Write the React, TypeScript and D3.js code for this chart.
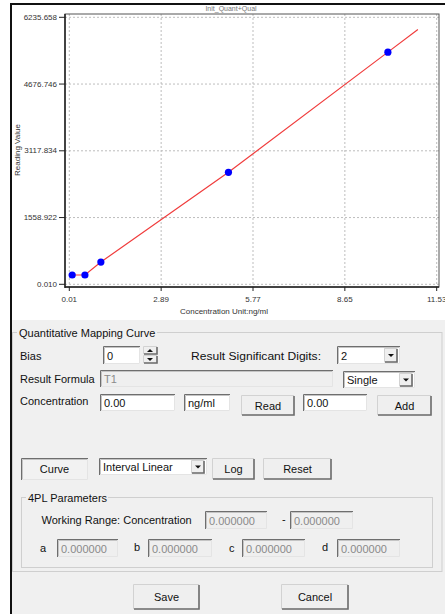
import React from "react";
import * as d3 from "d3";

// chart data
const chartTitle = "Init_Quant+Qual";
const xTicks = [0.01, 2.89, 5.77, 8.65, 11.53];
const yTicks = [0.01, 1558.922, 3117.834, 4676.746, 6235.658];
const calConc = [0.1, 0.5, 1, 5, 10];
const calReading = [217, 217, 520, 2616, 5422];
const curveConc = [0.1, 0.5, 1, 5, 10, 10.94];
const curveReading = [217, 217, 520, 2616, 5422, 5950];

const W = 445;
const H = 614;
const FONT = "'Liberation Sans', Arial, sans-serif";
const BG = "#f0f0f0";

// plot frame
const frame = { left: 65, right: 439, top: 14, bottom: 287 };

const x = d3.scaleLinear().domain([xTicks[0], xTicks[xTicks.length - 1]]).range([69.3, 436.7]);
const y = d3.scaleLinear().domain([yTicks[0], yTicks[yTicks.length - 1]]).range([284.3, 17.3]);

const fmtX = d3.format(".2f");
const fmtY = d3.format(".3f");

const line = d3
  .line<[number, number]>()
  .x((d) => x(d[0]))
  .y((d) => y(d[1]));

type Box = { x: number; y: number; w: number; h: number };

const Label = ({ x, y, text, color = "#111", size = 11, anchor = "start", fit }: any) => (
  <text
    x={x}
    y={y}
    fontSize={size}
    fill={color}
    dominantBaseline="central"
    textAnchor={anchor}
    textLength={fit}
    lengthAdjust={fit ? "spacingAndGlyphs" : undefined}
  >
    {text}
  </text>
);

const Sunken = ({ x, y, w, h, fill = "#fff" }: Box & { fill?: string }) => (
  <g>
    <rect x={x} y={y} width={w} height={h} fill={fill} />
    <path d={`M${x + 0.5},${y + h} V${y + 0.5} H${x + w}`} stroke="#6e6e6e" fill="none" />
    <path d={`M${x + 1.5},${y + h - 1} V${y + 1.5} H${x + w - 1}`} stroke="#c4c4c4" fill="none" />
    <path d={`M${x + w - 0.5},${y + 1} V${y + h - 0.5} H${x + 1}`} stroke="#e4e4e4" fill="none" />
  </g>
);

const Raised = ({ x, y, w, h }: Box) => (
  <g>
    <rect x={x} y={y} width={w} height={h} fill="#efefef" />
    <path d={`M${x + 0.5},${y + h - 1} V${y + 0.5} H${x + w - 1}`} stroke="#d2d2d2" fill="none" />
    <path d={`M${x + w - 1},${y + 1} V${y + h - 1} H${x + 1}`} stroke="#6a6a6a" strokeWidth={1.6} fill="none" />
  </g>
);

const Button = ({ x, y, w, h, label, pressed = false }: Box & { label: string; pressed?: boolean }) => (
  <g>
    {pressed ? <Sunken x={x} y={y} w={w} h={h} fill="#f2f2f2" /> : <Raised x={x} y={y} w={w} h={h} />}
    <Label x={x + w / 2} y={y + h / 2} text={label} anchor="middle" />
  </g>
);

const TextBox = ({ x, y, w, h, value, disabled = false }: Box & { value: string; disabled?: boolean }) => (
  <g>
    <Sunken x={x} y={y} w={w} h={h} fill={disabled ? "#efefef" : "#fff"} />
    <Label x={x + 4} y={y + h / 2 + 0.5} text={value} color={disabled ? "#8a8a8a" : "#111"} />
  </g>
);

const Arrow = ({ cx, cy, up = false }: { cx: number; cy: number; up?: boolean }) => (
  <path
    d={up ? `M${cx - 3},${cy + 1.5} L${cx + 3},${cy + 1.5} L${cx},${cy - 1.5} Z` : `M${cx - 3},${cy - 1.5} L${cx + 3},${cy - 1.5} L${cx},${cy + 1.5} Z`}
    fill="#111"
  />
);

const Combo = ({ x, y, w, h, value }: Box & { value: string }) => (
  <g>
    <TextBox x={x} y={y} w={w} h={h} value={value} />
    <Raised x={x + w - 16} y={y + 2} w={14} h={h - 3} />
    <Arrow cx={x + w - 9} cy={y + h / 2 + 0.5} />
  </g>
);

const Spin = ({ x, y, w, h }: Box) => (
  <g>
    <Raised x={x} y={y} w={w} h={h / 2} />
    <Raised x={x} y={y + h / 2} w={w} h={h / 2} />
    <Arrow cx={x + w / 2 - 0.5} cy={y + h / 4} up />
    <Arrow cx={x + w / 2 - 0.5} cy={y + (3 * h) / 4} />
  </g>
);

const GroupBox = ({ x, y, w, h, title, titleW }: Box & { title: string; titleW: number }) => (
  <g>
    <rect x={x + 0.5} y={y + 0.5} width={w} height={h} fill="none" stroke="#cfcfcf" />
    <rect x={x + 5} y={y - 6} width={titleW} height={12} fill={BG} />
    <Label x={x + 7} y={y + 0.5} text={title} />
  </g>
);

const Chart = () => {
  const pts: [number, number][] = calConc.map((c, i) => [c, calReading[i]]);
  const curve: [number, number][] = curveConc.map((c, i) => [c, curveReading[i]]);
  return (
    <g fontFamily={FONT}>
      <rect x={12} y={5} width={W - 12} height={315} fill="#fff" />
      <text x={231} y={11} fontSize={7} fill="#777" textAnchor="middle">
        {chartTitle}
      </text>
      {/* grid */}
      {xTicks.map((t) => (
        <line key={"gx" + t} x1={x(t)} x2={x(t)} y1={frame.top} y2={frame.bottom} stroke="#bdbdbd" strokeDasharray="2,2" />
      ))}
      {yTicks.map((t) => (
        <line key={"gy" + t} x1={frame.left} x2={frame.right} y1={y(t)} y2={y(t)} stroke="#bdbdbd" strokeDasharray="2,2" />
      ))}
      <rect
        x={frame.left}
        y={frame.top}
        width={frame.right - frame.left}
        height={frame.bottom - frame.top}
        fill="none"
        stroke="#555"
      />
      <line x1={frame.left} x2={frame.left} y1={frame.top} y2={frame.bottom + 1} stroke="#222" strokeWidth={1.5} />
      <line x1={frame.left} x2={frame.right} y1={frame.bottom} y2={frame.bottom} stroke="#222" strokeWidth={1.5} />
      {/* y axis */}
      {yTicks.map((t) => (
        <g key={"ty" + t}>
          <line x1={frame.left - 6} x2={frame.left} y1={y(t)} y2={y(t)} stroke="#222" />
          <text x={frame.left - 8} y={y(t)} fontSize={8} fill="#333" textAnchor="end" dominantBaseline="central">
            {fmtY(t)}
          </text>
        </g>
      ))}
      {/* x axis */}
      {xTicks.map((t) => (
        <g key={"tx" + t}>
          <line x1={x(t)} x2={x(t)} y1={frame.bottom} y2={frame.bottom + 4} stroke="#222" />
          <text x={x(t)} y={frame.bottom + 12} fontSize={8} fill="#333" textAnchor="middle" dominantBaseline="central">
            {fmtX(t)}
          </text>
        </g>
      ))}
      <text x={224} y={311} fontSize={8} fill="#333" textAnchor="middle" dominantBaseline="central">
        Concentration Unit:ng/ml
      </text>
      <text
        transform="translate(17,150) rotate(-90)"
        fontSize={8}
        fill="#333"
        textAnchor="middle"
        dominantBaseline="central"
      >
        Reading Value
      </text>
      <path d={line(curve) ?? ""} fill="none" stroke="#f03c3c" strokeWidth={1.2} />
      {pts.map((p, i) => (
        <circle key={i} cx={x(p[0])} cy={y(p[1])} r={3.6} fill="#0000ff" />
      ))}
    </g>
  );
};

const Form = () => (
  <g fontFamily={FONT}>
    <rect x={12} y={320} width={W - 12} height={H - 320} fill={BG} />
    <GroupBox x={12} y={332} w={429.5} h={239} title="Quantitative Mapping Curve" titleW={140} />

    <Label x={20} y={355.5} text="Bias" />
    <TextBox x={103} y={346} w={37} h={18} value="0" />
    <Spin x={143} y={346} w={15} h={18} />
    <Label x={191} y={355.5} text="Result Significant Digits:" fit={130} />
    <Combo x={337} y={346} w={63} h={18} value="2" />

    <Label x={20} y={378.5} text="Result Formula" />
    <TextBox x={100} y={370} w={233} h={17} value="T1" disabled />
    <Combo x={343} y={371} w={72} h={17} value="Single" />

    <Label x={20} y={401} text="Concentration" />
    <TextBox x={100} y={394} w={75} h={17} value="0.00" />
    <TextBox x={184} y={394} w={46} h={17} value="ng/ml" />
    <Button x={241} y={395} w={54} h={21} label="Read" />
    <TextBox x={303} y={394} w={64} h={17} value="0.00" />
    <Button x={377} y={395} w={55} h={21} label="Add" />

    <Button x={21} y={458} w={67} h={22} label="Curve" pressed />
    <Combo x={99} y={458} w={108} h={17} value="Interval Linear" />
    <Button x={212} y={458} w={43} h={22} label="Log" />
    <Button x={263} y={458} w={69} h={22} label="Reset" />

    <GroupBox x={21} y={497} w={411} h={70} title="4PL Parameters" titleW={82} />
    <Label x={41.5} y={520} text="Working Range: Concentration" />
    <TextBox x={205} y={511} w={62} h={18} value="0.000000" disabled />
    <Label x={282} y={519} text="-" />
    <TextBox x={290} y={511} w={63} h={18} value="0.000000" disabled />

    <Label x={40} y={548} text="a" />
    <TextBox x={57} y={539} w={61} h={18} value="0.000000" disabled />
    <Label x={134} y={547} text="b" />
    <TextBox x={148} y={539} w={64} h={18} value="0.000000" disabled />
    <Label x={229} y={548} text="c" />
    <TextBox x={242} y={539} w={63} h={18} value="0.000000" disabled />
    <Label x={322} y={547} text="d" />
    <TextBox x={337} y={539} w={63} h={18} value="0.000000" disabled />

    <Button x={133} y={584} w={67} h={26} label="Save" />
    <Button x={281} y={584} w={68} h={26} label="Cancel" />
  </g>
);

export default function App() {
  return (
    <svg
      width={W}
      height={H}
      viewBox={`0 0 ${W} ${H}`}
      style={{ position: "absolute", left: 0, top: 0, background: "#fff" }}
    >
      <Chart />
      <Form />
      {/* window border */}
      <line x1={10} x2={W} y1={4} y2={4} stroke="#111" strokeWidth={2} />
      <line x1={11} x2={11} y1={3} y2={H} stroke="#111" strokeWidth={2} />
    </svg>
  );
}
